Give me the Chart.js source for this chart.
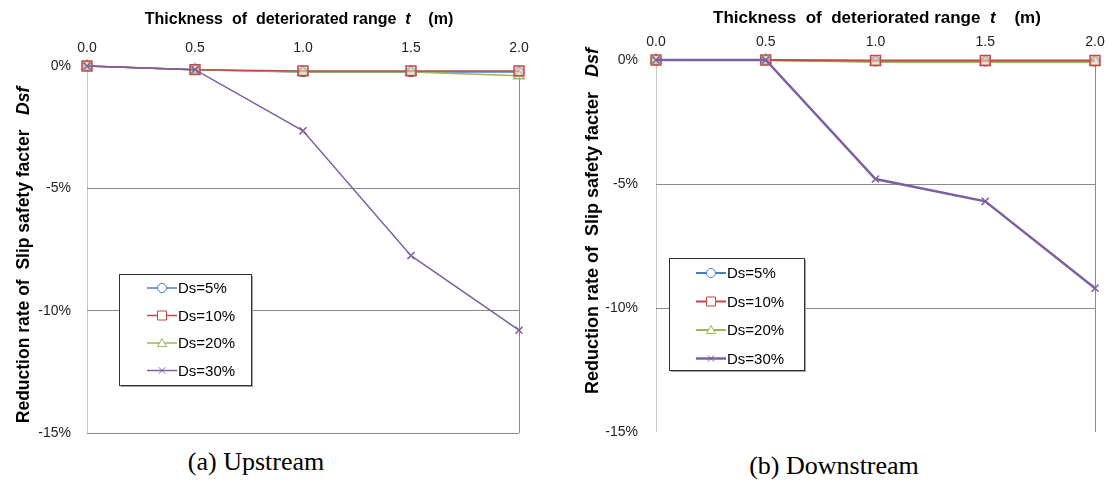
<!DOCTYPE html>
<html lang="en">
<head>
  <meta charset="UTF-8">
  <title>Reduction rate of slip safety factor</title>
  <script src="https://cdn.jsdelivr.net/npm/chart.js"></script>
  <style>
    body {
      margin: 0;
      background: #ffffff;
      font-family: "Liberation Sans", Arial, sans-serif;
    }
    .page {
      position: relative;
      width: 1108px;
      height: 482px;
      overflow: hidden;
    }
    .panel {
      position: absolute;
      top: 0;
      height: 445px;
    }
    .caption {
      position: absolute;
      font-family: "Liberation Serif", "Times New Roman", serif;
      font-size: 26px;
      color: #000;
      white-space: nowrap;
      transform: translate(-50%, -50%);
    }
  </style>
</head>
<body>
  <div class="page">
    <div class="panel" style="left:0; width:550px;"><canvas id="upChart"></canvas></div>
    <div class="panel" style="left:560px; width:548px;"><canvas id="downChart"></canvas></div>
    <div class="caption" style="left:256px; top:462px;">(a) Upstream</div>
    <div class="caption" style="left:834px; top:466px;">(b) Downstream</div>
  </div>

  <script>
    // thickness of deteriorated range t (m)
    const thickness = [0.0, 0.5, 1.0, 1.5, 2.0];
    const seriesNames = ['Ds=5%', 'Ds=10%', 'Ds=20%', 'Ds=30%'];
    const yTickValues = [0, -5, -10, -15];

    // reduction rate (%) - upstream
    const upDs5  = [0, -0.15, -0.25, -0.25, -0.25];
    const upDs10 = [0, -0.15, -0.2, -0.2, -0.2];
    const upDs20 = [0, -0.15, -0.25, -0.25, -0.4];
    const upDs30 = [0, -0.15, -2.65, -7.75, -10.8];

    // reduction rate (%) - downstream
    const downDs5  = [0, 0, -0.05, -0.05, -0.05];
    const downDs10 = [0, 0, -0.02, -0.02, -0.02];
    const downDs20 = [0, 0, -0.08, -0.08, -0.08];
    const downDs30 = [0, 0, -4.8, -5.7, -9.2];

    const colors = ['#4a7ebb', '#be4b48', '#98b954', '#7d60a0'];
    const markers = ['circle', 'rect', 'triangle', 'crossRot'];
    const markerRadius = [4.5, 7, 6, 5];
    const fills = ['rgba(220,230,242,0.7)', 'rgba(242,220,219,0.5)', 'rgba(235,241,222,0.6)', '#7d60a0'];

    const toPoints = (vals) => vals.map((v, i) => ({ x: thickness[i], y: v }));

    // draw a marker like the legend samples
    function drawMarker(ctx, style, x, y, r, stroke, fill) {
      ctx.save();
      ctx.strokeStyle = stroke;
      ctx.fillStyle = fill;
      ctx.lineWidth = 1;
      ctx.beginPath();
      if (style === 'circle') {
        ctx.arc(x, y, r, 0, Math.PI * 2);
        ctx.fill(); ctx.stroke();
      } else if (style === 'rect') {
        ctx.rect(x - r, y - r, r * 2, r * 2);
        ctx.fill(); ctx.stroke();
      } else if (style === 'triangle') {
        ctx.moveTo(x, y - r);
        ctx.lineTo(x + r, y + r * 0.8);
        ctx.lineTo(x - r, y + r * 0.8);
        ctx.closePath();
        ctx.fill(); ctx.stroke();
      } else {
        ctx.moveTo(x - r * 0.7, y - r * 0.7); ctx.lineTo(x + r * 0.7, y + r * 0.7);
        ctx.moveTo(x + r * 0.7, y - r * 0.7); ctx.lineTo(x - r * 0.7, y + r * 0.7);
        ctx.stroke();
      }
      ctx.restore();
    }

    // text with mixed upright / italic parts
    function drawRich(ctx, parts, cx, cy, angle, size) {
      ctx.save();
      ctx.translate(cx, cy);
      ctx.rotate(angle);
      ctx.textBaseline = 'middle';
      ctx.fillStyle = '#000';
      const fontOf = (p) => (p.italic ? 'italic bold ' : 'bold ') + size + 'px "Liberation Sans", Arial, sans-serif';
      let total = 0;
      parts.forEach(p => { ctx.font = fontOf(p); total += ctx.measureText(p.text).width; });
      let x = -total / 2;
      parts.forEach(p => {
        ctx.font = fontOf(p);
        ctx.fillText(p.text, x, 0);
        x += ctx.measureText(p.text).width;
      });
      ctx.restore();
    }

    const xTitleParts = [{ text: 'Thickness  of  deteriorated range  ' }, { text: 't', italic: true }, { text: '    (m)' }];
    const yTitleParts = [{ text: 'Reduction rate of  Slip safety facter   ' }, { text: 'Dsf', italic: true }];

    const extrasPlugin = {
      id: 'extras',
      afterDraw(chart) {
        const o = chart.options.plugins.extras;
        const ctx = chart.ctx;
        drawRich(ctx, xTitleParts, o.xTitle[0], o.xTitle[1], 0, o.xTitle[2]);
        drawRich(ctx, yTitleParts, o.yTitle[0], o.yTitle[1], -Math.PI / 2, o.yTitle[2]);

        // legend box inside the plot
        const b = o.legendBox;
        ctx.save();
        ctx.fillStyle = '#a0a0a0';
        ctx.fillRect(b.x + 2, b.y + 2, b.w, b.h);
        ctx.fillStyle = '#fff';
        ctx.fillRect(b.x, b.y, b.w, b.h);
        ctx.strokeStyle = '#333';
        ctx.lineWidth = 1;
        ctx.strokeRect(b.x + 0.5, b.y + 0.5, b.w, b.h);
        ctx.font = '15px "Liberation Sans", Arial, sans-serif';
        ctx.textBaseline = 'middle';
        chart.data.datasets.forEach((ds, i) => {
          const y = b.y + b.first + i * b.step;
          const x0 = b.x + b.lineX;
          ctx.strokeStyle = ds.borderColor;
          ctx.lineWidth = ds.borderWidth;
          ctx.beginPath();
          ctx.moveTo(x0, y);
          ctx.lineTo(x0 + b.lineW, y);
          ctx.stroke();
          drawMarker(ctx, markers[i], x0 + b.lineW / 2, y, 4.5, ds.borderColor, '#fff');
          ctx.fillStyle = '#000';
          ctx.fillText(ds.label, x0 + b.lineW + 1, y + 1);
        });
        ctx.restore();
      }
    };

    function makeChart(id, seriesList, cfg) {
      const datasets = seriesList.map((vals, i) => ({
        label: seriesNames[i],
        data: toPoints(vals),
        borderColor: colors[i],
        backgroundColor: fills[i],
        borderWidth: cfg.lineWidths[i],
        pointStyle: markers[i],
        pointRadius: markerRadius[i],
        pointBorderWidth: 1.5,
        pointBorderColor: colors[i],
        pointBackgroundColor: fills[i],
        order: [3, 1, 2, 0][i],
        clip: false,
        tension: 0
      }));

      return new Chart(document.getElementById(id), {
        type: 'line',
        data: { datasets },
        options: {
          responsive: true,
          maintainAspectRatio: false,
          animation: false,
          layout: { padding: cfg.padding },
          plugins: {
            legend: { display: false },
            tooltip: { enabled: false },
            extras: cfg.extras
          },
          scales: {
            x: {
              type: 'linear',
              position: 'top',
              min: 0,
              max: 2,
              afterFit: (s) => {
                s.height = cfg.xAxisHeight;
                s.paddingLeft = 0; s.paddingRight = 0;
              },
              ticks: {
                stepSize: 0.5,
                padding: 9,
                color: '#222',
                font: { size: 14, family: '"Liberation Sans", Arial, sans-serif' },
                callback: (v) => v.toFixed(1)
              },
              grid: {
                drawTicks: false,
                color: (c) => c.tick.value === 0 ? '#c8c8c8' : (c.tick.value === 2 ? '#8a8a8a' : 'rgba(0,0,0,0)')
              },
              border: { display: false }
            },
            y: {
              min: -15,
              max: 0,
              afterFit: (s) => {
                s.width = cfg.yAxisWidth;
                s.paddingTop = 0; s.paddingBottom = 0;
              },
              afterBuildTicks: (s) => { s.ticks = yTickValues.map(v => ({ value: v })); },
              ticks: {
                padding: cfg.yTickPad,
                color: '#222',
                font: { size: 14, family: '"Liberation Sans", Arial, sans-serif' },
                callback: (v) => v + '%'
              },
              grid: {
                drawTicks: false,
                color: (c) => {
                  if (c.tick.value === 0) return 'rgba(0,0,0,0)';
                  if (c.tick.value === -15 && !cfg.bottomLine) return 'rgba(0,0,0,0)';
                  return '#8a8a8a';
                }
              },
              border: { display: false }
            }
          }
        },
        plugins: [extrasPlugin]
      });
    }

    makeChart('upChart', [upDs5, upDs10, upDs20, upDs30], {
      padding: { left: 0, right: 31, top: 0, bottom: 12 },
      xAxisHeight: 66,
      yAxisWidth: 87,
      yTickPad: 16,
      bottomLine: true,
      lineWidths: [1.5, 1.5, 1.5, 1.5],
      extras: {
        xTitle: [299, 20, 16],
        yTitle: [24, 255, 17.5],
        legendBox: { x: 119, y: 274, w: 132, h: 111, first: 14, step: 27.5, lineX: 28, lineW: 30 }
      }
    });

    makeChart('downChart', [downDs5, downDs10, downDs20, downDs30], {
      padding: { left: 0, right: 13, top: 0, bottom: 13 },
      xAxisHeight: 60,
      yAxisWidth: 96,
      yTickPad: 18,
      bottomLine: false,
      lineWidths: [2, 2, 2, 2.5],
      extras: {
        xTitle: [317, 18, 17],
        yTitle: [33, 221, 18],
        legendBox: { x: 109, y: 258, w: 135, h: 112, first: 15, step: 28.5, lineX: 27, lineW: 30 }
      }
    });
  </script>
</body>
</html>
